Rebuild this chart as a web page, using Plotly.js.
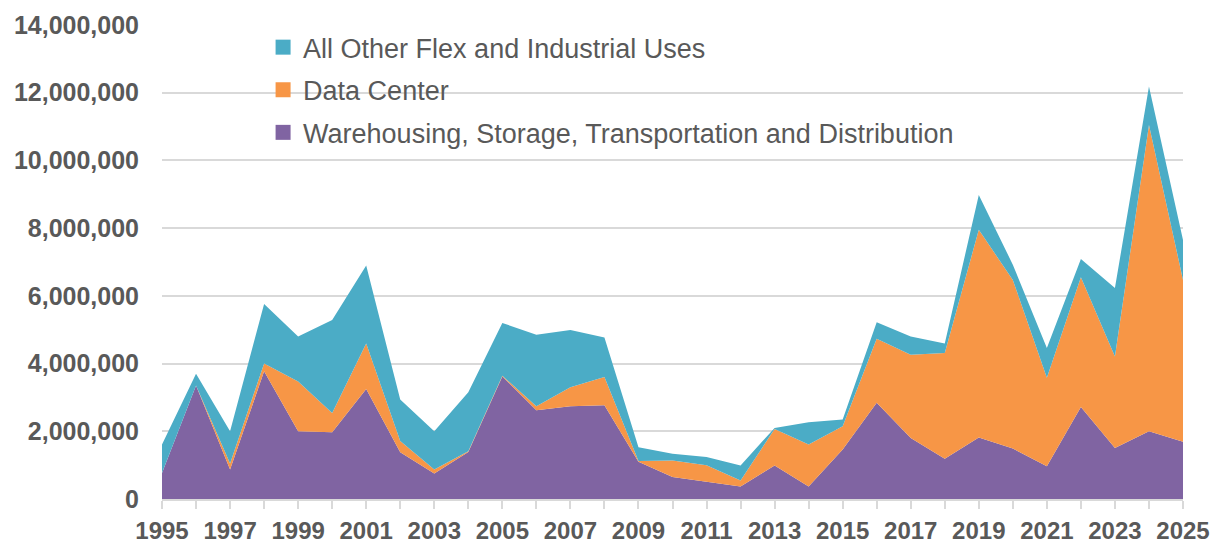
<!DOCTYPE html>
<html>
<head>
<meta charset="utf-8">
<script src="https://cdn.plot.ly/plotly-3.0.1.min.js"></script>
<style>
  html, body { margin: 0; padding: 0; background: #ffffff; }
  #chart { width: 1213px; height: 544px; }
</style>
</head>
<body>
<div id="chart"></div>
<script>
const years = [1995,1996,1997,1998,1999,2000,2001,2002,2003,2004,2005,2006,2007,2008,2009,2010,2011,2012,2013,2014,2015,2016,2017,2018,2019,2020,2021,2022,2023,2024,2025];

const warehousing = [770000,3350000,870000,3770000,2000000,1970000,3250000,1380000,750000,1390000,3620000,2620000,2740000,2770000,1100000,650000,510000,370000,990000,370000,1460000,2840000,1800000,1190000,1820000,1490000,970000,2720000,1510000,2000000,1690000];

const dataCenter = [0,0,180000,230000,1470000,570000,1340000,330000,120000,20000,20000,120000,560000,830000,20000,490000,490000,180000,1080000,1240000,690000,1890000,2460000,3120000,6130000,4980000,2610000,3830000,2700000,9050000,4780000];

const allOther = [840000,350000,950000,1760000,1330000,2750000,2310000,1230000,1130000,1740000,1560000,2110000,1690000,1170000,410000,200000,240000,440000,30000,660000,200000,490000,540000,280000,1030000,450000,880000,540000,2020000,1130000,1180000];

const seriesNames = [
  "Warehousing, Storage, Transportation and Distribution",
  "Data Center",
  "All Other Flex and Industrial Uses"
];
const colors = ["#8064a2", "#f79646", "#4bacc6"];
const seriesValues = [warehousing, dataCenter, allOther];

const traces = [];
seriesValues.forEach((vals, i) => {
  traces.push({
    x: years, y: vals, type: "scatter", mode: "lines",
    stackgroup: "one", name: seriesNames[i],
    line: { width: 0, color: colors[i] },
    fillcolor: colors[i],
    showlegend: false, hoverinfo: "x+y+name"
  });
});
// legend entries (top to bottom: All Other, Data Center, Warehousing)
[2, 1, 0].forEach((i, k) => {
  traces.push({
    x: [null], y: [null], type: "scatter", mode: "markers",
    name: seriesNames[i], legendgroup: "g" + k,
    marker: { symbol: "square", size: 15, color: colors[i] },
    showlegend: true, hoverinfo: "skip"
  });
});

const layout = {
  width: 1213, height: 544,
  margin: { l: 162, r: 30, t: 25, b: 44.5 },
  paper_bgcolor: "#ffffff", plot_bgcolor: "#ffffff",
  font: { family: "Liberation Sans, Arial, sans-serif", color: "#595959" },
  showlegend: true,
  legend: {
    x: 0.099, y: 1.004, xanchor: "left", yanchor: "top",
    bgcolor: "rgba(0,0,0,0)",
    font: { size: 27, color: "#595959", family: "Liberation Sans, Arial, sans-serif" },
    traceorder: "grouped", tracegroupgap: 4.5,
    itemsizing: "trace"
  },
  xaxis: {
    range: [1995, 2025], tick0: 1995, dtick: 2, tickmode: "linear",
    showgrid: false, zeroline: false,
    showline: true, linecolor: "#d9d9d9", linewidth: 2,
    ticks: "outside", ticklen: 8, tickcolor: "#d9d9d9", tickwidth: 2,
    minor: { dtick: 1, tick0: 1995, ticks: "outside", ticklen: 8, tickcolor: "#d9d9d9", tickwidth: 2, showgrid: false },
    ticklabelstandoff: 1,
    tickfont: { size: 24, color: "#595959", family: "Liberation Sans, Arial, sans-serif", weight: "bold" },
    fixedrange: true
  },
  yaxis: {
    range: [0, 14000000], dtick: 2000000, tick0: 0, tickmode: "linear",
    tickformat: ",d",
    showgrid: true, gridcolor: "#d9d9d9", gridwidth: 2,
    zeroline: false, showline: false, ticks: "",
    ticklabelstandoff: 22,
    tickfont: { size: 25, color: "#595959", family: "Liberation Sans, Arial, sans-serif", weight: "bold" },
    fixedrange: true
  }
};

Plotly.newPlot("chart", traces, layout, { displayModeBar: false, staticPlot: true });
</script>
</body>
</html>
